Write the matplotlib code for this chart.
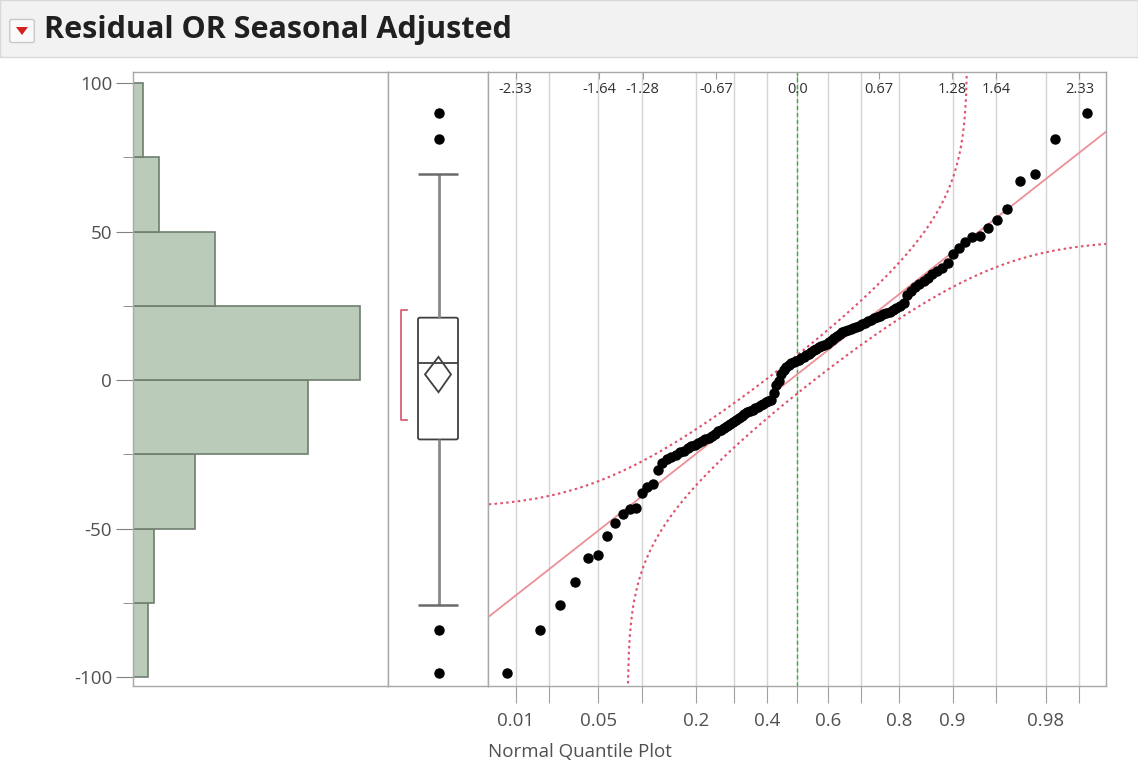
import numpy as np
import matplotlib.pyplot as plt
from matplotlib.patches import Polygon, FancyBboxPatch
from statistics import NormalDist

plt.rcParams['font.family'] = ['Open Sans', 'DejaVu Sans']
plt.rcParams['axes.unicode_minus'] = False

# sorted residuals (n = 120)
residuals = [
    -98.6, -84.0, -75.6, -68.0, -60.0, -59.0, -52.5, -48.0, -45.0, -43.5,
    -43.0, -38.0, -36.0, -35.0, -30.2, -28.0, -26.5, -25.8, -25.3, -24.3,
    -23.8, -23.0, -22.3, -21.8, -21.2, -20.6, -20.0, -19.5, -18.8, -18.0,
    -17.3, -16.8, -16.2, -15.5, -14.8, -14.2, -13.5, -12.8, -12.2, -11.5,
    -10.9, -10.5, -10.0, -9.5, -9.0, -8.5, -8.0, -7.5, -7.2, -6.8,
    -4.5, -1.7, -0.4, 2.0, 3.5, 4.5, 5.2, 5.8, 6.2, 6.5,
    6.8, 7.3, 7.8, 8.3, 8.8, 9.5, 10.2, 10.6, 11.0, 11.4,
    11.8, 12.3, 12.8, 13.5, 14.2, 14.9, 15.5, 16.1, 16.5, 16.8,
    17.1, 17.5, 17.8, 18.3, 18.8, 19.3, 19.8, 20.3, 20.8, 21.3,
    21.7, 22.1, 22.6, 23.0, 23.6, 24.3, 24.8, 25.8, 28.5, 30.0,
    31.3, 32.2, 33.3, 34.5, 35.6, 36.6, 37.6, 39.5, 42.4, 44.3,
    46.5, 48.0, 48.5, 51.2, 53.9, 57.6, 67.0, 69.5, 81.0, 89.8,
]
hist_edges = [-100, -75, -50, -25, 0, 25, 50, 75, 100]

# outlier box plot summary
box_q1, box_median, box_q3 = -20.0, 5.8, 21.0
whisker_low, whisker_high = -75.6, 69.5
outliers = [89.8, 81.0, -84.0, -98.6]
box_mean, mean_ci = 1.9, (-4.1, 7.8)
shortest_half = (-13.6, 23.7)

# normal fit and Lilliefors band
fit_mean, fit_sd = 2.0, 32.0
band_d = 0.08

prob_ticks = [0.01, 0.02, 0.05, 0.1, 0.2, 0.3, 0.4, 0.5, 0.6, 0.7, 0.8, 0.9, 0.95, 0.98, 0.99]
prob_labels = ["0.01", "", "0.05", "", "0.2", "", "0.4", "", "0.6", "", "0.8", "0.9", "", "0.98", ""]
z_ticks = [-2.33, -1.64, -1.28, -0.67, 0.0, 0.67, 1.28, 1.64, 2.33]

nd = NormalDist()
ylim = (-103.0, 103.7)
frame_col = "#a8a8a8"
text_col = "#505050"

fig = plt.figure(figsize=(11.38, 7.69), dpi=100)
fig.patch.set_facecolor("white")

# title bar
fig.patches.append(plt.Rectangle((0, 1 - 57 / 769), 1, 57 / 769, transform=fig.transFigure,
                                 facecolor="#f2f2f2", edgecolor="#d8d8d8", lw=1))
fig.patches.append(FancyBboxPatch((12 / 1138, 1 - 41 / 769), 20 / 1138, 20 / 769,
                                  boxstyle="round,pad=0.002", transform=fig.transFigure,
                                  facecolor="#fafafa", edgecolor="#c8c8c8", lw=1))
fig.patches.append(Polygon([(16 / 1138, 1 - 27 / 769), (28 / 1138, 1 - 27 / 769), (22 / 1138, 1 - 35 / 769)],
                           closed=True, transform=fig.transFigure, facecolor="#d42020", edgecolor="none"))
fig.text(44 / 1138, 1 - 30 / 769, "Residual OR Seasonal Adjusted", fontsize=22, fontweight="bold",
         color="#202020", va="center", ha="left")

bottom = 1 - 686 / 769
height = 614 / 769
ax_h = fig.add_axes([133 / 1138, bottom, 255 / 1138, height])
ax_b = fig.add_axes([388 / 1138, bottom, 100 / 1138, height])
ax_q = fig.add_axes([488 / 1138, bottom, 618 / 1138, height])

for ax in (ax_h, ax_b, ax_q):
    ax.set_ylim(*ylim)
    for s in ax.spines.values():
        s.set_color(frame_col)
        s.set_linewidth(1)

# histogram
counts, _ = np.histogram(residuals, bins=hist_edges)
ax_h.barh(hist_edges[:-1], counts, height=25, align="edge", color="#bacbba", edgecolor="#6e7f6e", lw=1.2)
ax_h.set_xlim(0, 49.5)
ax_h.set_xticks([])
ax_h.set_yticks([-100, -50, 0, 50, 100])
ax_h.set_yticks([-75, -25, 25, 75], minor=True)
ax_h.tick_params(axis="y", which="major", length=12, color="#808080", labelsize=13.5, labelcolor=text_col, pad=3)
ax_h.tick_params(axis="y", which="minor", length=7, color="#808080")

# box plot
xc = 0.505
ax_b.set_xlim(0, 1)
ax_b.set_xticks([])
ax_b.set_yticks([])
ax_b.vlines(xc, whisker_low, box_q1, color="#8a8a8a", lw=2)
ax_b.vlines(xc, box_q3, whisker_high, color="#8a8a8a", lw=2)
ax_b.hlines([whisker_low, whisker_high], 0.30, 0.70, color="#6a6a6a", lw=1.8)
ax_b.add_patch(FancyBboxPatch((0.30, box_q1), 0.40, box_q3 - box_q1, boxstyle="round,pad=0,rounding_size=0.02",
                              facecolor="white", edgecolor="#404040", lw=1.3, mutation_aspect=30))
ax_b.hlines(box_median, 0.30, 0.70, color="#404040", lw=1.3)
ax_b.add_patch(Polygon([(xc, mean_ci[1]), (0.63, box_mean), (xc, mean_ci[0]), (0.37, box_mean)],
                       closed=True, facecolor="none", edgecolor="#404040", lw=1.3))
ax_b.plot([0.19, 0.128, 0.128, 0.19], [shortest_half[1], shortest_half[1], shortest_half[0], shortest_half[0]],
          color="#d9607a", lw=1.3)
ax_b.plot([xc] * len(outliers), outliers, "o", color="black", ms=6.5)

# normal quantile plot
n = len(residuals)
zq = np.array([nd.inv_cdf(i / (n + 1)) for i in range(1, n + 1)])
ax_q.set_xlim(-2.558, 2.55)
zt = [nd.inv_cdf(p) for p in prob_ticks]
for z in zt:
    ax_q.axvline(z, color="#d4d4d4", lw=1, zorder=0)
ax_q.axvline(0, color="#38b038", lw=1, ls=(0, (3, 2)), zorder=1)

zz = np.linspace(-2.6, 2.6, 600)
pz = np.array([nd.cdf(z) for z in zz])
up = np.array([fit_mean + fit_sd * nd.inv_cdf(p + band_d) if p + band_d < 1 else np.nan for p in pz])
lo = np.array([fit_mean + fit_sd * nd.inv_cdf(p - band_d) if p - band_d > 0 else np.nan for p in pz])
ax_q.plot(zz, up, color="#e0506a", lw=1.5, ls=(0, (1.2, 1.6)))
ax_q.plot(zz, lo, color="#e0506a", lw=1.5, ls=(0, (1.2, 1.6)))
ax_q.plot(zz, fit_mean + fit_sd * zz, color="#eb9098", lw=1.3)
ax_q.plot(zq, residuals, "o", color="black", ms=6.5, zorder=3)

ax_q.set_yticks([])
ax_q.set_xticks(zt)
ax_q.set_xticklabels(prob_labels)
ax_q.tick_params(axis="x", length=12, color="#a0a0a0", labelsize=13.5, labelcolor=text_col, pad=7)
ax_q.set_xlabel("Normal Quantile Plot", fontsize=13.5, color=text_col, loc="left", labelpad=9)

top = ax_q.secondary_xaxis("top")
top.set_xticks(z_ticks)
top.set_xticklabels([])
top.tick_params(direction="in", length=5, color="#a0a0a0")
top.spines["top"].set_visible(False)
for z in z_ticks:
    ax_q.text(z, 0.983, f"{z:.2f}" if z != 0 else "0.0", transform=ax_q.get_xaxis_transform(),
              ha="center", va="top", fontsize=10.5, color="#303030")

fig.savefig("out.png", dpi=100)
